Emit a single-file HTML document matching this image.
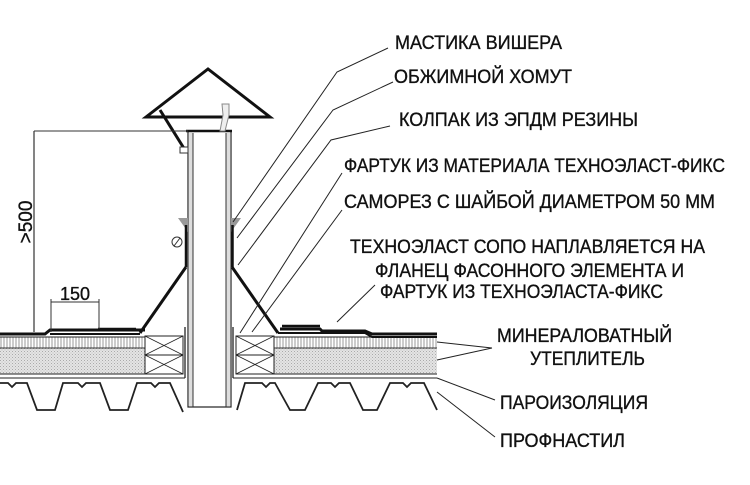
<!DOCTYPE html>
<html><head><meta charset="utf-8"><style>
html,body{margin:0;padding:0;background:#fff;width:750px;height:485px;overflow:hidden}
svg{display:block}
text{font-family:"Liberation Sans","DejaVu Sans",sans-serif;fill:#111;stroke:#111;stroke-width:0.35}
</style></head><body>
<svg width="750" height="485" viewBox="0 0 750 485" xmlns="http://www.w3.org/2000/svg">
<defs>
<pattern id="vh" width="3" height="10" patternUnits="userSpaceOnUse"><rect width="3" height="10" fill="#fff"/><line x1="1" y1="0" x2="1" y2="10" stroke="#999" stroke-width="1"/></pattern>
<pattern id="dt" width="3" height="3" patternUnits="userSpaceOnUse"><rect width="3" height="3" fill="#e4e4e4"/><rect width="1" height="1" fill="#aaa"/><rect x="1.5" y="1.5" width="1" height="1" fill="#bbb"/></pattern>
</defs>

<rect x="0" y="337" width="145" height="11" fill="url(#vh)"/>
<line x1="0" y1="337" x2="145" y2="337" stroke="#222" stroke-width="1"/>
<line x1="0" y1="348" x2="145" y2="348" stroke="#333" stroke-width="1"/>
<rect x="0" y="348.5" width="145" height="25" fill="url(#dt)"/>
<line x1="0" y1="374" x2="183" y2="374" stroke="#222" stroke-width="1"/>
<line x1="0" y1="378" x2="185" y2="378" stroke="#222" stroke-width="1"/>
<line x1="185" y1="327" x2="185" y2="378" stroke="#222" stroke-width="1.3"/>
<rect x="145" y="336" width="38" height="38" fill="#fff" stroke="#222" stroke-width="1"/>
<line x1="145" y1="355" x2="183" y2="355" stroke="#222"/>
<path d="M145 336 L183 355 M183 336 L145 355 M145 355 L183 374 M183 355 L145 374" stroke="#222" stroke-width="0.8" fill="none"/>

<rect x="274" y="337" width="163" height="11" fill="url(#vh)"/>
<line x1="274" y1="337" x2="437" y2="337" stroke="#222"/>
<line x1="274" y1="348" x2="437" y2="348" stroke="#333"/>
<rect x="274" y="348.5" width="163" height="25" fill="url(#dt)"/>
<line x1="236" y1="374" x2="437" y2="374" stroke="#222"/>
<line x1="233" y1="378" x2="437" y2="378" stroke="#222"/>
<line x1="233" y1="327" x2="233" y2="378" stroke="#222" stroke-width="1.3"/>
<rect x="236" y="336" width="38" height="38" fill="#fff" stroke="#222"/>
<line x1="236" y1="355" x2="274" y2="355" stroke="#222"/>
<path d="M236 336 L274 355 M274 336 L236 355 M236 355 L274 374 M274 355 L236 374" stroke="#222" stroke-width="0.8" fill="none"/>

<path d="M0 334 L45 334 L50 330 L145 330" stroke="#111" stroke-width="3" fill="none"/>
<path d="M50 334 L140 334" stroke="#111" stroke-width="2" fill="none"/>
<path d="M98 329 L136 329" stroke="#111" stroke-width="2.5" fill="none"/>
<path d="M278 333 L365 333 L372 337 L437 337" stroke="#111" stroke-width="2" fill="none"/>
<path d="M280 329 L320 329 L322 331 L365 331 L372 334 L437 334" stroke="#111" stroke-width="3" fill="none"/>
<path d="M282 326 L320 326" stroke="#111" stroke-width="2.5" fill="none"/>

<path d="M0 383 L8 383 L12 387 L16 383 L27 383 L37 410 L55 410 L63 383 L78 383 L82 387 L86 383 L100 383 L110 410 L128 410 L137 383 L151 383 L155 387 L159 383 L170 383 L183 412" stroke="#222" stroke-width="1.8" fill="none"/>
<path d="M237 410 L245 383 L262 383 L266 387 L270 383 L275 383 L290 410 L305 410 L318 383 L331 383 L335 387 L339 383 L350 383 L363 410 L377 410 L390 383 L403 383 L407 387 L411 383 L424 383 L437 410" stroke="#222" stroke-width="1.8" fill="none"/>

<rect x="188" y="131" width="43" height="276" fill="#fff" stroke="#222" stroke-width="1.2"/>
<rect x="188.5" y="133" width="4.5" height="273" fill="#ddd"/>
<rect x="226" y="133" width="4.5" height="273" fill="#ddd"/>
<line x1="193" y1="133" x2="193" y2="407" stroke="#333"/>
<line x1="226" y1="133" x2="226" y2="407" stroke="#333"/>
<line x1="186" y1="131" x2="232" y2="131" stroke="#111" stroke-width="2.5"/>

<path d="M146 117 L208 69 L270 117 Z" fill="none" stroke="#111" stroke-width="3"/>
<line x1="160" y1="110" x2="185" y2="150" stroke="#111" stroke-width="3"/>
<rect x="180" y="147" width="8" height="6" fill="#fff" stroke="#333"/>
<path d="M222 104 L229 104 L229 115 L225 131 L220 131 L223 115 Z" fill="#eee" stroke="#888" stroke-width="1"/>

<path d="M178 218 L188 218 L188 232 Z" fill="#999"/>
<path d="M241 218 L231 218 L231 232 Z" fill="#999"/>
<line x1="186" y1="225" x2="186" y2="267" stroke="#111" stroke-width="2.5"/>
<line x1="232.5" y1="225" x2="232.5" y2="267" stroke="#111" stroke-width="2.5"/>
<circle cx="177" cy="242" r="5" fill="#fff" stroke="#333"/>
<line x1="174" y1="246" x2="180" y2="238" stroke="#333"/>
<line x1="186" y1="267" x2="140" y2="333" stroke="#111" stroke-width="3"/>
<line x1="232" y1="267" x2="278" y2="333" stroke="#111" stroke-width="3"/>

<line x1="34" y1="131" x2="188" y2="131" stroke="#333" stroke-width="1"/>
<line x1="34" y1="131" x2="34" y2="332" stroke="#333" stroke-width="1.2"/>
<text x="0" y="0" font-size="19" transform="translate(32,222) rotate(-90)" text-anchor="middle">&gt;500</text>
<line x1="51" y1="302" x2="99" y2="302" stroke="#333"/>
<line x1="51" y1="299" x2="51" y2="332" stroke="#333"/>
<line x1="99" y1="299" x2="99" y2="329" stroke="#333"/>
<text x="60" y="300" font-size="18" textLength="30" lengthAdjust="spacingAndGlyphs">150</text>

<g stroke="#222" stroke-width="1" fill="none">
<path d="M388 48 L337 72 L233 222"/>
<path d="M393 82 L333 110 L237 238"/>
<path d="M390 126 L331 140 L238 265"/>
<path d="M342 173 L240 333"/>
<path d="M342 210 L252 332"/>
<path d="M375 285 L337 322"/>
<path d="M492 348 L437 342 M492 348 L437 360"/>
<path d="M495 400 L437 378"/>
<path d="M495 437 L437 392"/>
</g>

<g font-size="19">
<text x="395" y="49" textLength="167" lengthAdjust="spacingAndGlyphs">МАСТИКА ВИШЕРА</text>
<text x="394" y="83" textLength="178" lengthAdjust="spacingAndGlyphs">ОБЖИМНОЙ ХОМУТ</text>
<text x="399" y="126" textLength="239" lengthAdjust="spacingAndGlyphs">КОЛПАК ИЗ ЭПДМ РЕЗИНЫ</text>
<text x="344" y="172" textLength="381" lengthAdjust="spacingAndGlyphs">ФАРТУК ИЗ МАТЕРИАЛА ТЕХНОЭЛАСТ-ФИКС</text>
<text x="344" y="208" textLength="371" lengthAdjust="spacingAndGlyphs">САМОРЕЗ С ШАЙБОЙ ДИАМЕТРОМ 50 ММ</text>
<text x="350" y="253" textLength="355" lengthAdjust="spacingAndGlyphs">ТЕХНОЭЛАСТ СОПО НАПЛАВЛЯЕТСЯ НА</text>
<text x="375" y="277" textLength="309" lengthAdjust="spacingAndGlyphs">ФЛАНЕЦ ФАСОННОГО ЭЛЕМЕНТА И</text>
<text x="380" y="298" textLength="283" lengthAdjust="spacingAndGlyphs">ФАРТУК ИЗ ТЕХНОЭЛАСТА-ФИКС</text>
<text x="497" y="342" textLength="175" lengthAdjust="spacingAndGlyphs">МИНЕРАЛОВАТНЫЙ</text>
<text x="530" y="365" textLength="115" lengthAdjust="spacingAndGlyphs">УТЕПЛИТЕЛЬ</text>
<text x="500" y="409" textLength="148" lengthAdjust="spacingAndGlyphs">ПАРОИЗОЛЯЦИЯ</text>
<text x="500" y="447" textLength="125" lengthAdjust="spacingAndGlyphs">ПРОФНАСТИЛ</text>
</g>
</svg>
</body></html>
